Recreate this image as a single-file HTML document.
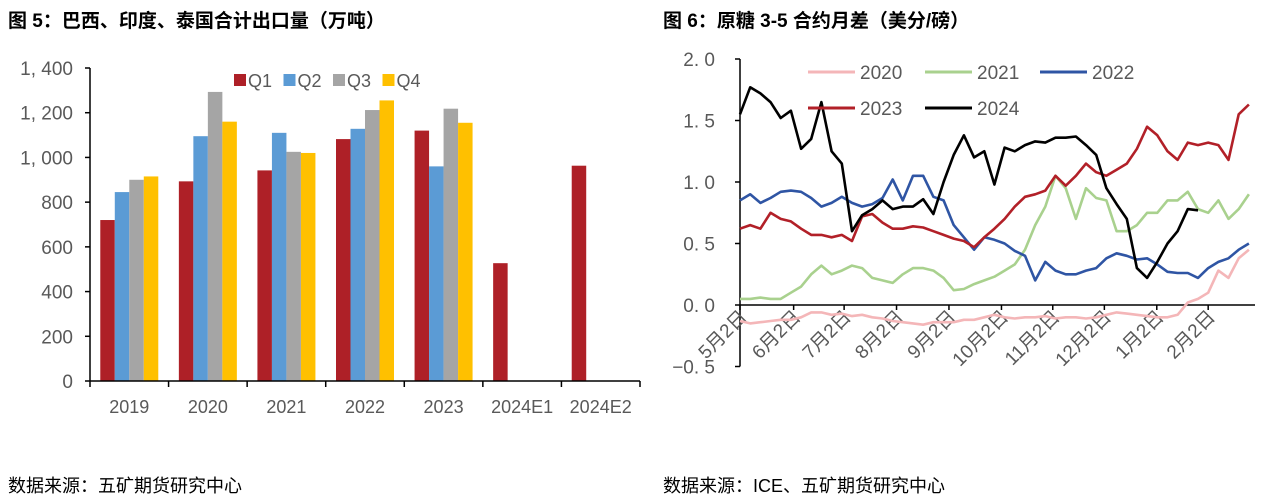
<!DOCTYPE html>
<html><head><meta charset="utf-8">
<style>
body{margin:0;width:1268px;height:502px;background:#fff;overflow:hidden;font-family:"Liberation Sans","Noto Sans CJK SC",sans-serif;position:relative}
.t{position:absolute;font-weight:bold;font-size:19px;color:#000;top:6px;white-space:nowrap}
.f{position:absolute;font-size:18px;color:#000;top:472px;white-space:nowrap}
svg{position:absolute;left:0;top:0}
svg text{font-family:"Liberation Sans","Noto Sans CJK SC",sans-serif;fill:#595959}
</style></head><body>
<div class="t" style="left:8px">图 5：巴西、印度、泰国合计出口量（万吨）</div>
<div class="t" style="left:663px">图 6：原糖 3-5 合约月差（美分/磅）</div>
<div class="f" style="left:8px">数据来源：五矿期货研究中心</div>
<div class="f" style="left:663px">数据来源：ICE、五矿期货研究中心</div>
<svg id="c" width="1268" height="502"></svg>
<script>
const categories=["2019","2020","2021","2022","2023","2024E1","2024E2"];
const q1=[720,893,942,1082,1120,527,963];
const q2=[845,1095,1110,1128,960,null,null];
const q3=[900,1293,1025,1212,1218,null,null];
const q4=[915,1160,1020,1255,1155,null,null];
const barTicks=[0,200,400,600,800,1000,1200,1400];
const barTickLabels=["0","200","400","600","800","1, 000","1, 200","1, 400"];

const lineTicks=[-0.5,0,0.5,1,1.5,2];
const lineTickLabels=["−0. 5","0. 0","0. 5","1. 0","1. 5","2. 0"];
const monthPos=[0,5.27,10.23,15.38,20.53,25.69,30.73,35.8,40.95,46.0];
const monthLabels=["5月2日","6月2日","7月2日","8月2日","9月2日","10月2日","11月2日","12月2日","1月2日","2月2日"];
const s2020=[-0.13,-0.15,-0.14,-0.13,-0.12,-0.12,-0.10,-0.06,-0.06,-0.08,-0.07,-0.09,-0.08,-0.10,-0.11,-0.13,-0.14,-0.15,-0.16,-0.14,-0.14,-0.14,-0.12,-0.12,-0.10,-0.08,-0.10,-0.11,-0.10,-0.10,-0.09,-0.11,-0.10,-0.10,-0.11,-0.10,-0.08,-0.06,-0.07,-0.08,-0.09,-0.10,-0.10,-0.08,0.02,0.05,0.10,0.28,0.22,0.38,0.45];
const s2021=[0.05,0.05,0.06,0.05,0.05,0.10,0.15,0.25,0.32,0.25,0.28,0.32,0.30,0.22,0.20,0.18,0.25,0.30,0.30,0.28,0.22,0.12,0.13,0.17,0.20,0.23,0.28,0.33,0.45,0.65,0.80,1.05,0.95,0.70,0.95,0.87,0.85,0.60,0.60,0.65,0.75,0.75,0.85,0.85,0.92,0.78,0.75,0.85,0.70,0.78,0.90];
const s2022=[0.85,0.90,0.83,0.87,0.92,0.93,0.92,0.87,0.80,0.83,0.88,0.83,0.80,0.82,0.87,1.02,0.85,1.05,1.05,0.88,0.85,0.65,0.55,0.45,0.55,0.53,0.50,0.44,0.40,0.20,0.35,0.28,0.25,0.25,0.28,0.30,0.38,0.42,0.40,0.37,0.38,0.33,0.27,0.26,0.26,0.22,0.30,0.35,0.38,0.45,0.50];
const s2023=[0.62,0.65,0.62,0.75,0.70,0.68,0.62,0.57,0.57,0.55,0.57,0.52,0.72,0.74,0.67,0.62,0.62,0.64,0.63,0.60,0.57,0.54,0.52,0.47,0.55,0.62,0.70,0.80,0.88,0.90,0.93,1.05,0.97,1.05,1.15,1.08,1.05,1.10,1.15,1.27,1.45,1.38,1.25,1.18,1.32,1.30,1.32,1.30,1.18,1.55,1.63];
const s2024=[1.55,1.77,1.72,1.65,1.52,1.58,1.27,1.35,1.65,1.25,1.15,0.60,0.73,0.78,0.85,0.78,0.80,0.80,0.86,0.74,1.00,1.22,1.38,1.20,1.25,0.98,1.28,1.25,1.30,1.33,1.32,1.36,1.36,1.37,1.30,1.22,0.95,0.82,0.70,0.30,0.22,0.35,0.50,0.60,0.78,0.77];

const svg=document.getElementById('c');
const NS='http://www.w3.org/2000/svg';
function mk(tag,attrs,parent){const e=document.createElementNS(NS,tag);for(const k in attrs)e.setAttribute(k,attrs[k]);(parent||svg).appendChild(e);return e;}

// ---- bar chart ----
const bx0=90,bx1=640,by0=381,by1=68;
const by=v=>by0-(v/1400)*(by0-by1);
const cw=(bx1-bx0)/categories.length;
const bw=14.5;
const gBar=mk('g',{});


barTicks.forEach((t,i)=>{
  const l=mk('line',{x1:bx0-5,x2:bx0,y1:by(t),y2:by(t),stroke:'#000','stroke-width':1.5},gBar);
  
  
  const tx=mk('text',{x:bx0-17,y:by(t)+7,'text-anchor':'end','font-size':19},gBar);
  tx.textContent=barTickLabels[i];
  
  
});
const series=[q1,q2,q3,q4],cols=['#AE2027','#5B9BD5','#A5A5A5','#FFC000'],qn=['q1','q2','q3','q4'];
categories.forEach((c,i)=>{
  const gx=bx0+i*cw+(cw-4*bw)/2;
  series.forEach((s,k)=>{
    if(s[i]==null)return;
    const r=mk('rect',{x:gx+k*bw,y:by(s[i]),width:bw,height:by0-by(s[i]),fill:cols[k]},gBar);
    
    
  });
  const tx=mk('text',{x:bx0+(i+0.5)*cw,y:413,'text-anchor':'middle','font-size':18},gBar);
  tx.textContent=c;
  
  
  const tk=mk('line',{x1:bx0+(i+1)*cw,x2:bx0+(i+1)*cw,y1:by0,y2:by0+6,stroke:'#000','stroke-width':1.5},gBar);
  
  
});
const tk0=mk('line',{x1:bx0,x2:bx0,y1:by0,y2:by0+6,stroke:'#000','stroke-width':1.5},gBar);


const yax=mk('line',{x1:bx0,x2:bx0,y1:by1,y2:by0,stroke:'#000','stroke-width':1.5},gBar);


const xax=mk('line',{x1:bx0,x2:bx1,y1:by0,y2:by0,stroke:'#000','stroke-width':1.5},gBar);


['Q1','Q2','Q3','Q4'].forEach((q,k)=>{
  const lx=234+k*49.5;
  const r=mk('rect',{x:lx,y:74,width:12,height:12,fill:cols[k]},gBar);
  
  
  const tx=mk('text',{x:lx+14,y:87,'font-size':18},gBar);
  tx.textContent=q;
  
  
});

// ---- line chart ----
const lx0=740,lx1=1255,xMaxIdx=50.6;
const ly=v=>305-v*123;
const lxf=i=>lx0+i/xMaxIdx*(lx1-lx0);
const gL=mk('g',{});


lineTicks.forEach((t,i)=>{
  const l=mk('line',{x1:lx0-5,x2:lx0,y1:ly(t),y2:ly(t),stroke:'#000','stroke-width':1.5},gL);
  
  
  const tx=mk('text',{x:lx0-25,y:ly(t)+7,'text-anchor':'end','font-size':19},gL);
  tx.textContent=lineTickLabels[i];
  
  
});
const ya2=mk('line',{x1:lx0,x2:lx0,y1:ly(2),y2:ly(-0.5),stroke:'#000','stroke-width':1.5},gL);


const xa2=mk('line',{x1:lx0,x2:lx1,y1:ly(0),y2:ly(0),stroke:'#000','stroke-width':1.5},gL);


monthPos.forEach((p,i)=>{
  const x=lxf(p);
  const tk=mk('line',{x1:x,x2:x,y1:ly(0),y2:ly(0)+5,stroke:'#000','stroke-width':1.5},gL);
  
  
  const tx=mk('text',{x:x+8,y:318,'text-anchor':'end','font-size':19,transform:`rotate(-45 ${x+8} 318)`},gL);
  tx.textContent=monthLabels[i];
  
  
});
const lines=[[s2020,'#F4B6B8','2020'],[s2021,'#A9D18E','2021'],[s2022,'#2F55A4','2022'],[s2023,'#B22028','2023'],[s2024,'#000','2024']];
lines.forEach(([s,c,n])=>{
  const d=s.map((v,i)=>(i?'L':'M')+lxf(i).toFixed(1)+' '+ly(v).toFixed(1)).join(' ');
  const p=mk('path',{d:d,fill:'none',stroke:c,'stroke-width':2.6,'stroke-linejoin':'round'},gL);
  
  
});
const leg=[[808,72],[925,72],[1040,72],[808,108],[925,108]];
lines.forEach(([s,c,n],k)=>{
  const [x,y]=leg[k];
  const l=mk('line',{x1:x,x2:x+47,y1:y,y2:y,stroke:c,'stroke-width':3},gL);
  
  
  const tx=mk('text',{x:x+52,y:y+7,'font-size':19},gL);
  tx.textContent=n;
  
  
});
</script>
</body></html>
